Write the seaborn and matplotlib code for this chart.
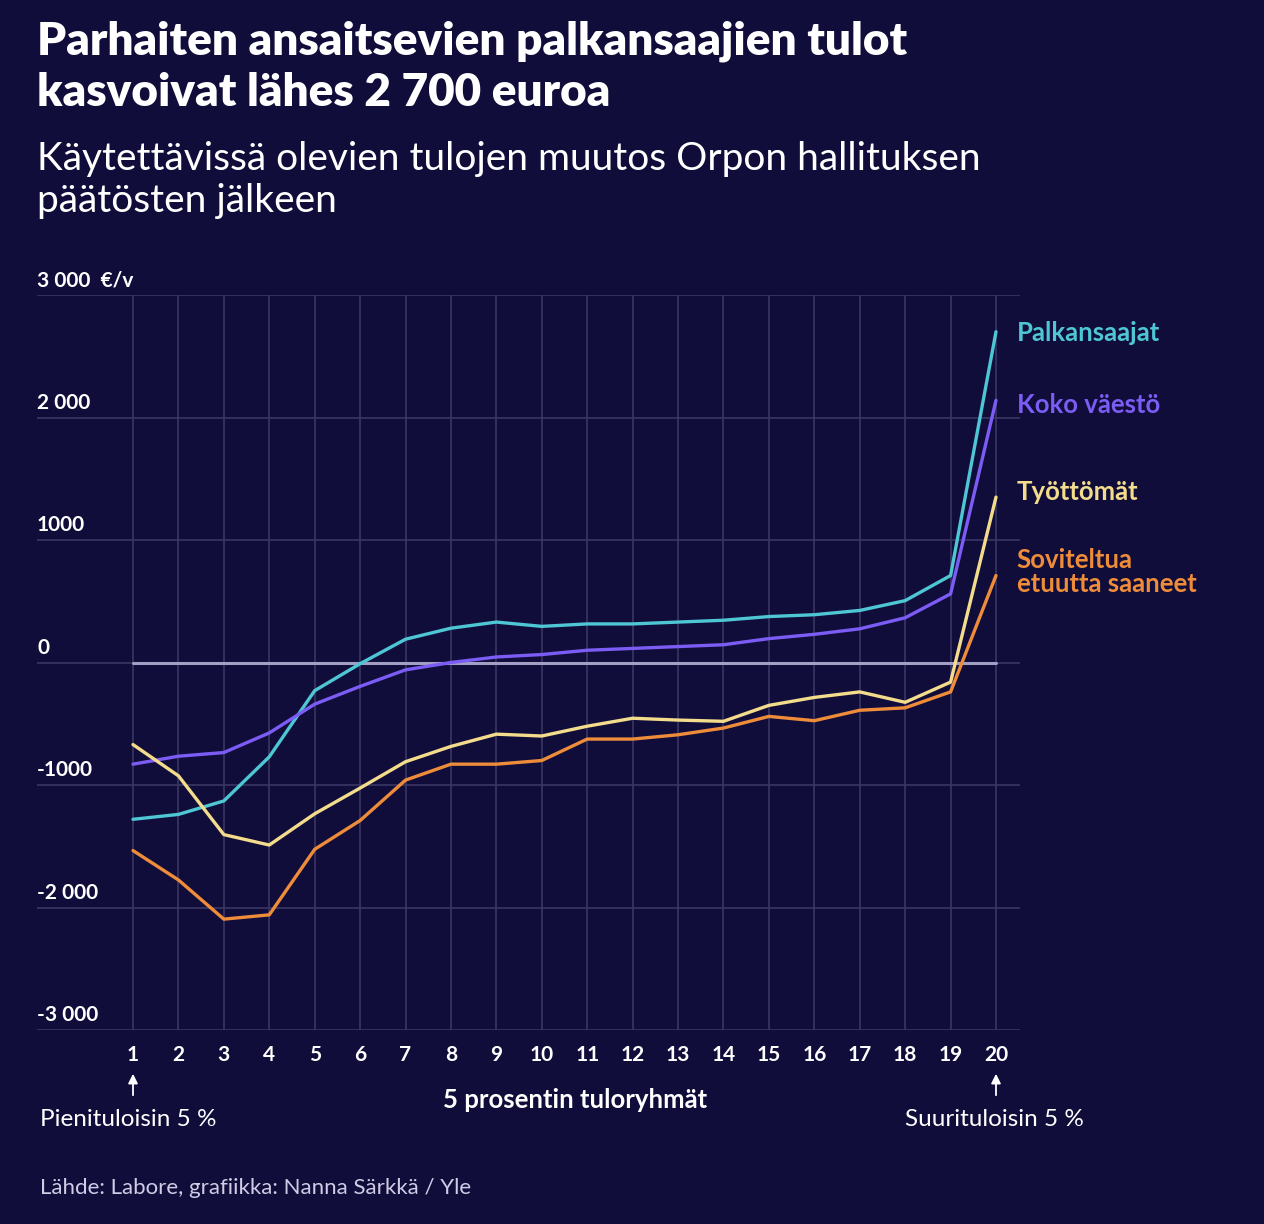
import numpy as np
import pandas as pd
import matplotlib
matplotlib.use("Agg")
import matplotlib.pyplot as plt
import seaborn as sns

# --- Data ---
groups = list(range(1, 21))
palkansaajat = [-1280, -1240, -1130, -770, -230, -10, 190, 280, 330, 295,
                315, 315, 330, 345, 375, 390, 425, 505, 710, 2700]
koko_vaesto = [-830, -765, -735, -575, -340, -195, -60, 0, 45, 65,
               100, 115, 130, 145, 195, 230, 275, 365, 560, 2140]
tyottomat = [-670, -925, -1405, -1490, -1235, -1025, -810, -685, -585, -600,
             -520, -455, -470, -480, -350, -285, -240, -325, -160, 1350]
soviteltua = [-1535, -1775, -2095, -2060, -1525, -1290, -960, -830, -830, -800,
              -625, -625, -590, -535, -440, -475, -390, -370, -240, 710]

series_names = ["Palkansaajat", "Koko väestö", "Työttömät", "Soviteltua\netuutta saaneet"]
series_values = [palkansaajat, koko_vaesto, tyottomat, soviteltua]
y_ticks = [3000, 2000, 1000, 0, -1000, -2000, -3000]
y_tick_labels = ["3 000  €/v", "2 000", "1000", "0", "-1000", "-2 000", "-3 000"]

colors = {
    "Palkansaajat": "#4ec6d3",
    "Koko väestö": "#7b5cf5",
    "Työttömät": "#f3dc8c",
    "Soviteltua\netuutta saaneet": "#ee8c3a",
}

BG = "#110d3a"
GRID = "#3b3665"
ZERO = "#a29ec4"
TXT = "#ffffff"

df = pd.concat(
    [pd.DataFrame({"ryhma": groups, "muutos": v, "sarja": n})
     for n, v in zip(series_names, series_values)],
    ignore_index=True,
)

sns.set_theme(style="dark")
plt.rcParams["font.family"] = ["Lato", "DejaVu Sans"]

fig = plt.figure(figsize=(12.64, 12.24), dpi=100, facecolor=BG)
ax = fig.add_axes([37 / 1264, 1 - 1030 / 1224, (1020 - 37) / 1264, (1030 - 295) / 1224])
ax.set_facecolor(BG)

# grid
for yv in y_ticks:
    ax.axhline(yv, color=GRID, lw=1.2, zorder=1)
for xv in groups:
    ax.axvline(xv, color=GRID, lw=1.2, zorder=1)
ax.plot([1, 20], [0, 0], color=ZERO, lw=2.2, zorder=2)

sns.lineplot(data=df, x="ryhma", y="muutos", hue="sarja", palette=colors,
             lw=2.4, legend=False, ax=ax, zorder=3)

ax.set_xlim(1 - 96 / 45.42, 20 + 24 / 45.42)
ax.set_ylim(-3000, 3000)
for s in ax.spines.values():
    s.set_visible(False)
ax.set_xlabel("")
ax.set_ylabel("")
ax.set_yticks([])
ax.set_xticks(groups)
ax.set_xticklabels([str(g) for g in groups], color=TXT, fontsize=15, fontweight="bold")
ax.tick_params(axis="x", length=0, pad=11)

# y labels sit above the gridlines at the left edge
for yv, lab in zip(y_ticks, y_tick_labels):
    ax.annotate(lab, xy=(0, yv), xycoords=("axes fraction", "data"),
                xytext=(0, 3.5), textcoords="offset points",
                ha="left", va="bottom", color=TXT, fontsize=15, fontweight="bold")

# series labels at right
label_pos = {
    "Palkansaajat": 2690,
    "Koko väestö": 2100,
    "Työttömät": 1390,
    "Soviteltua\netuutta saaneet": 740,
}
for n in series_names:
    ax.annotate(n, xy=(20, label_pos[n]), xycoords="data",
                xytext=(15, 0), textcoords="offset points",
                ha="left", va="center", color=colors[n], fontsize=18.5,
                fontweight="bold", linespacing=1.0, annotation_clip=False)

# arrows under first and last group
for xv in (1, 20):
    ax.annotate("", xy=(xv, -41 / 735), xytext=(xv, -68 / 735),
                xycoords=("data", "axes fraction"),
                arrowprops=dict(arrowstyle="-|>", color=TXT, lw=1.3,
                                mutation_scale=14))

fig.text(40 / 1264, 1 - 1120 / 1224, "Pienituloisin 5 %", color=TXT,
         fontsize=17.5, ha="left", va="center")
fig.text(575 / 1264, 1 - 1100 / 1224, "5 prosentin tuloryhmät", color=TXT,
         fontsize=18.5, fontweight="bold", ha="center", va="center")
fig.text(905 / 1264, 1 - 1120 / 1224, "Suurituloisin 5 %", color=TXT,
         fontsize=17.5, ha="left", va="center")
fig.text(40 / 1264, 1 - 1188 / 1224, "Lähde: Labore, grafiikka: Nanna Särkkä / Yle",
         color="#cfcce6", fontsize=16, ha="left", va="center")

# title and subtitle
fig.text(37 / 1264, 1 - 20 / 1224,
         "Parhaiten ansaitsevien palkansaajien tulot\nkasvoivat lähes 2 700 euroa",
         color=TXT, fontsize=33, fontweight="heavy", ha="left", va="top",
         linespacing=1.3)
fig.text(37 / 1264, 1 - 141 / 1224,
         "Käytettävissä olevien tulojen muutos Orpon hallituksen\npäätösten jälkeen",
         color=TXT, fontsize=28, ha="left", va="top", linespacing=1.22)

fig.savefig("out.png", dpi=100, facecolor=BG)
